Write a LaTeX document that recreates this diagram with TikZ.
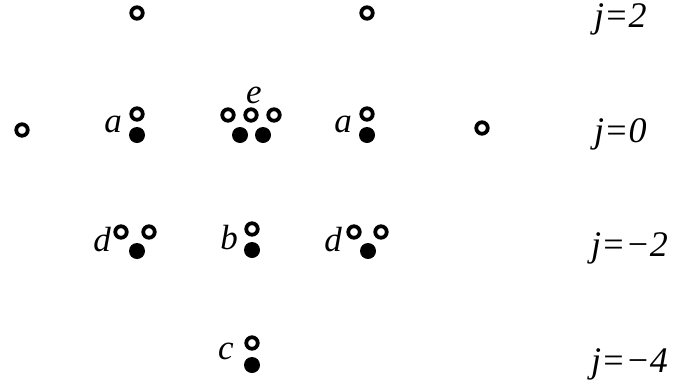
\documentclass[tikz,border=0pt]{standalone}
\usepackage{fontspec}
\setmainfont{Liberation Serif}
\tikzset{
  hole/.style={circle,draw=black,line width=3.8pt,fill=white,minimum size=11.5pt,inner sep=0pt},
  elec/.style={circle,fill=black,minimum size=16pt,inner sep=0pt},
  lbl/.style={font=\fontsize{35}{38}\selectfont\itshape,inner sep=0pt,anchor=base},
  jlbl/.style={font=\fontsize{36}{40}\selectfont\itshape,inner sep=0pt,anchor=base west}
}
\begin{document}
\begin{tikzpicture}[x=1pt,y=-1pt]
\useasboundingbox (0,0) rectangle (674,381);
% j=2
\node[hole] (t1) at (137,13) {};
\node[hole] (t2) at (367,13) {};
\node[jlbl] (j2) at (594,27) {j=2};
% j=0
\node[hole] (m0) at (22,130) {};
\node[lbl] (la1) at (113,132) {a};
\node[hole] (a1h) at (137,114) {};
\node[elec] (a1e) at (137,135) {};
\node[lbl] (le) at (254,103) {e};
\node[hole] (e1) at (228,115) {};
\node[hole] (e2) at (251,115) {};
\node[hole] (e3) at (274,115) {};
\node[elec] (e4) at (240,135) {};
\node[elec] (e5) at (263,135) {};
\node[lbl] (la2) at (343,132) {a};
\node[hole] (a2h) at (367,114) {};
\node[elec] (a2e) at (367,135) {};
\node[hole] (m1) at (482,128) {};
\node[jlbl] (j0) at (594,142) {j=0};
% j=-2
\node[lbl] (ld1) at (102,251) {d};
\node[hole] (d1a) at (121,232) {};
\node[hole] (d1b) at (149,232) {};
\node[elec] (d1e) at (137,251) {};
\node[lbl] (lb) at (229,249) {b};
\node[hole] (bh) at (252,229) {};
\node[elec] (be) at (252,250) {};
\node[lbl] (ld2) at (333,251) {d};
\node[hole] (d2a) at (354,232) {};
\node[hole] (d2b) at (381,232) {};
\node[elec] (d2e) at (368,251) {};
\node[jlbl] (jm2) at (591,256) {j=\char"2212 2};
% j=-4
\node[lbl] (lc) at (226,359) {c};
\node[hole] (ch) at (252,343) {};
\node[elec] (ce) at (252,365) {};
\node[jlbl] (jm4) at (591,372) {j=\char"2212 4};
\end{tikzpicture}
\end{document}
